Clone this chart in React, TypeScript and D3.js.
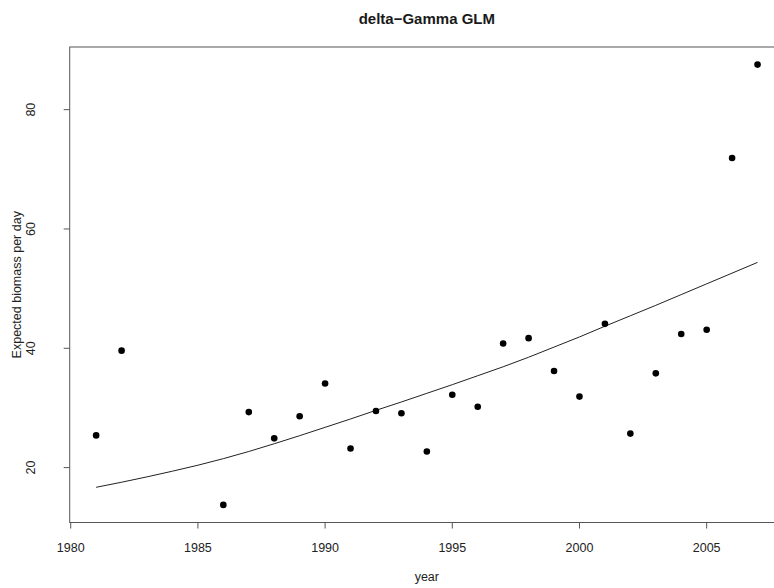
import React from "react";
import * as d3 from "d3";

// observed yearly values (points)
const years = [1981, 1982, 1986, 1987, 1988, 1989, 1990, 1991, 1992, 1993, 1994, 1995,
  1996, 1997, 1998, 1999, 2000, 2001, 2002, 2003, 2004, 2005, 2006, 2007];
const biomass = [25.4, 39.6, 13.75, 29.3, 24.9, 28.6, 34.1, 23.2, 29.5, 29.1, 22.7, 32.2,
  30.2, 40.8, 41.7, 36.2, 31.9, 44.1, 25.7, 35.8, 42.4, 43.1, 71.9, 87.55];

// fitted curve
const fitYears = [1981, 1982, 1983, 1984, 1985, 1986, 1987, 1988, 1989, 1990, 1991, 1992, 1993,
  1994, 1995, 1996, 1997, 1998, 1999, 2000, 2001, 2002, 2003, 2004, 2005, 2006, 2007];
const fitted = [16.7, 17.55, 18.45, 19.4, 20.4, 21.5, 22.7, 24.0, 25.35, 26.75, 28.15, 29.6, 31.0,
  32.45, 33.9, 35.4, 36.9, 38.5, 40.2, 41.9, 43.7, 45.45, 47.2, 49.0, 50.8, 52.6, 54.4];

const title = "delta\u2212Gamma GLM";
const xLabel = "year";
const yLabel = "Expected biomass per day";

const W = 774;
const H = 588;
const left = 69.7, right = 784, top = 47, bottom = 522.5;
const font = "'Liberation Sans', Arial, Helvetica, sans-serif";
const ink = "#1a1a1a";

// R style: data range padded by 4% each side
function pad(ext: [number, number]): [number, number] {
  const d = (ext[1] - ext[0]) * 0.04;
  return [ext[0] - d, ext[1] + d];
}

export default function App() {
  const x = d3.scaleLinear().domain(pad(d3.extent(years) as [number, number])).range([left, right]);
  const y = d3.scaleLinear().domain(pad(d3.extent(biomass) as [number, number])).range([bottom, top]);

  const line = d3.line<number>()
    .x((_, i) => x(fitYears[i]))
    .y((d) => y(d))
    .curve(d3.curveMonotoneX);

  const xTicks = x.ticks(5);
  const yTicks = y.ticks(5);
  const midX = (left + right) / 2;
  const midY = (top + bottom) / 2;

  return (
    <svg width={W} height={H} style={{ position: "absolute", left: 0, top: 0, background: "#fff" }}
      fontFamily={font}>
      <rect x={0} y={0} width={W} height={H} fill="#fff" />
      <text x={midX} y={24} textAnchor="middle" fontSize={15} fontWeight="bold" fill={ink}>{title}</text>

      {/* plot box */}
      <rect x={left} y={top} width={right - left} height={bottom - top} fill="none" stroke="#555" strokeWidth={1} />

      {/* x axis */}
      <g>
        {xTicks.map((t) => (
          <g key={t} transform={`translate(${x(t)},${bottom})`}>
            <line y2={6} stroke="#555" />
            <text y={29} textAnchor="middle" fontSize={12.5} fill="#222">{t}</text>
          </g>
        ))}
      </g>

      {/* y axis */}
      <g>
        {yTicks.map((t) => (
          <g key={t} transform={`translate(${left},${y(t)})`}>
            <line x2={-6} stroke="#555" />
            <text transform="translate(-35,0) rotate(-90)" textAnchor="middle" fontSize={12.5} fill="#222">{t}</text>
          </g>
        ))}
      </g>

      <text x={midX} y={581} textAnchor="middle" fontSize={12.5} fill="#222">{xLabel}</text>
      <text transform={`translate(21,${midY}) rotate(-90)`} textAnchor="middle" fontSize={12.5} fill="#222">{yLabel}</text>

      <path d={line(fitted) ?? ""} fill="none" stroke="#222" strokeWidth={1} />

      {biomass.map((v, i) => (
        <circle key={years[i]} cx={x(years[i])} cy={y(v)} r={3.3} fill="#000" />
      ))}
    </svg>
  );
}
